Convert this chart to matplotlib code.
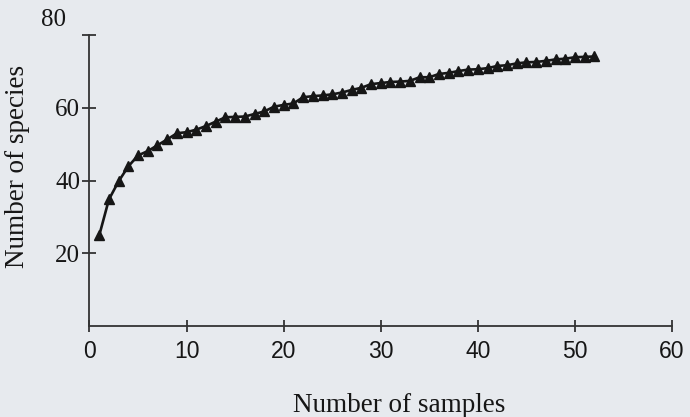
import numpy as np
import matplotlib.pyplot as plt

# species accumulation curve
samples = np.arange(1, 53)
species = [24.9, 34.8, 39.8, 43.9, 46.9, 48.1, 49.7, 51.3, 53.0, 53.3,
           54.0, 55.0, 56.2, 57.4, 57.5, 57.6, 58.3, 59.0, 60.3, 60.8,
           61.2, 62.9, 63.2, 63.4, 63.7, 64.2, 64.9, 65.5, 66.5, 66.8,
           67.1, 67.2, 67.4, 68.4, 68.4, 69.3, 69.6, 70.1, 70.5, 70.6,
           70.9, 71.5, 71.7, 72.2, 72.5, 72.6, 72.9, 73.3, 73.5, 73.9,
           74.0, 74.1]
x_ticks = [0, 10, 20, 30, 40, 50, 60]
y_ticks = [20, 40, 60, 80]

BG = '#e7eaee'
INK = '#161616'

fig = plt.figure(figsize=(6.9, 4.17), dpi=100, facecolor=BG)
ax = fig.add_axes([0.1297, 0.218, 0.8443, 0.698])
ax.set_facecolor(BG)

ax.plot(samples, species, color=INK, lw=1.9, marker='^', ms=7,
        markerfacecolor=INK, markeredgecolor=INK, clip_on=False)

ax.set_xlim(0, 60)
ax.set_ylim(0, 80)
for side in ('top', 'right'):
    ax.spines[side].set_visible(False)
for side in ('left', 'bottom'):
    ax.spines[side].set_color('#333333')
    ax.spines[side].set_linewidth(1.3)

ax.set_xticks(x_ticks)
ax.set_xticklabels([str(t) for t in x_ticks], family='Liberation Sans',
                   fontsize=16.5, color=INK)
ax.set_yticks(y_ticks)
ax.set_yticklabels(['20', '40', '60', ''], family='Liberation Serif',
                   fontsize=18, color=INK)
ax.tick_params(axis='x', direction='inout', length=8, width=1.3,
               color='#333333', pad=6)
ax.tick_params(axis='y', direction='inout', length=9.5, width=1.3,
               color='#333333', pad=2)
# the "80" label sits above its tick in the original
ax.annotate('80', xy=(0, 80), xytext=(-17, 11), textcoords='offset points',
            ha='right', va='center', family='Liberation Serif',
            fontsize=18, color=INK, annotation_clip=False)

ax.set_xlabel('Number of samples', family='Liberation Serif', fontsize=19.5,
              color=INK)
ax.xaxis.set_label_coords(0.531, -0.23)
ax.set_ylabel('Number of species', family='Liberation Serif', fontsize=19.5,
              color=INK)
ax.yaxis.set_label_coords(-0.102, 0.55)

fig.savefig('out.png', dpi=100, facecolor=BG)
